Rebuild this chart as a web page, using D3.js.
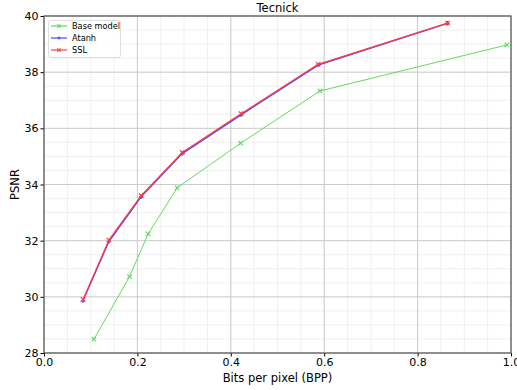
<!DOCTYPE html>
<html><head><meta charset="utf-8">
<script src="https://cdn.jsdelivr.net/npm/d3@7"></script>
<style>body{margin:0;background:#fff;}svg{font-family:"DejaVu Sans",sans-serif;}</style>
</head><body><svg id="c" width="517" height="390"></svg>
<script>
const baseX = [0.107, 0.183, 0.223, 0.285, 0.421, 0.591, 0.991];
const baseY = [28.49, 30.72, 32.24, 33.88, 35.47, 37.33, 38.97];
const atanhX = [0.0835, 0.139, 0.208, 0.296, 0.422, 0.587, 0.864];
const atanhY = [29.86, 31.97, 33.56, 35.10, 36.48, 38.25, 39.74];
const sslX = [0.0835, 0.139, 0.208, 0.296, 0.422, 0.587, 0.864];
const sslY = [29.90, 32.02, 33.60, 35.14, 36.52, 38.28, 39.75];
const xTicks = [0.0, 0.2, 0.4, 0.6, 0.8, 1.0];
const yTicks = [28, 30, 32, 34, 36, 38, 40];
const seriesNames = ["Base model", "Atanh", "SSL"];
const colors = ["#5fdc5f", "#4848ff", "#ff3c3c"];

const svg = d3.select("#c");
const L = 44, R = 511, T = 16, B = 353;
const x = d3.scaleLinear().domain([0, 1]).range([L, R]);
const y = d3.scaleLinear().domain([28, 40]).range([B, T]);

const g = svg.append("g");
g.selectAll(".mx").data(d3.range(0, 1.0001, 0.05)).enter().append("line")
  .attr("x1", d => x(d)).attr("x2", d => x(d)).attr("y1", T).attr("y2", B)
  .attr("stroke", "#ececec").attr("stroke-width", 0.8);
g.selectAll(".my").data(d3.range(28, 40.001, 0.5)).enter().append("line")
  .attr("y1", d => y(d)).attr("y2", d => y(d)).attr("x1", L).attr("x2", R)
  .attr("stroke", "#ececec").attr("stroke-width", 0.8);
g.selectAll(".gx").data(xTicks).enter().append("line")
  .attr("x1", d => x(d)).attr("x2", d => x(d)).attr("y1", T).attr("y2", B)
  .attr("stroke", "#cccccc").attr("stroke-width", 1);
g.selectAll(".gy").data(yTicks).enter().append("line")
  .attr("y1", d => y(d)).attr("y2", d => y(d)).attr("x1", L).attr("x2", R)
  .attr("stroke", "#cccccc").attr("stroke-width", 1);

const xa = svg.append("g").attr("transform", `translate(0,${B})`)
  .call(d3.axisBottom(x).tickValues(xTicks).tickFormat(d3.format(".1f")).tickSize(3.5).tickPadding(2));
const ya = svg.append("g").attr("transform", `translate(${L},0)`)
  .call(d3.axisLeft(y).tickValues(yTicks).tickFormat(d3.format("d")).tickSize(3.5).tickPadding(2));
[xa, ya].forEach(a => {
  a.selectAll("text").attr("font-size", 11).attr("fill", "#000").attr("font-family", "DejaVu Sans");
  a.selectAll("line").attr("stroke", "#000");
  a.select(".domain").remove();
});
svg.append("rect").attr("x", L).attr("y", T).attr("width", R - L).attr("height", B - T)
  .attr("fill", "none").attr("stroke", "#555").attr("stroke-width", 1.2);

const data = [
  {xs: baseX, ys: baseY, sym: "x"},
  {xs: atanhX, ys: atanhY, sym: "+"},
  {xs: sslX, ys: sslY, sym: "x"}
];
const line = d3.line().x(d => x(d[0])).y(d => y(d[1]));
function marker(sel, sym, cx, cy, col, s = 2.2) {
  if (sym === "x") {
    sel.append("path").attr("d", `M${cx-s},${cy-s}L${cx+s},${cy+s}M${cx-s},${cy+s}L${cx+s},${cy-s}`)
      .attr("stroke", col).attr("stroke-width", 1.2);
  } else {
    sel.append("path").attr("d", `M${cx-s},${cy}L${cx+s},${cy}M${cx},${cy-s}L${cx},${cy+s}`)
      .attr("stroke", col).attr("stroke-width", 1.2);
  }
}
data.forEach((s, i) => {
  const pts = s.xs.map((v, j) => [v, s.ys[j]]);
  const sg = svg.append("g");
  sg.append("path").datum(pts).attr("d", line).attr("fill", "none")
    .attr("stroke", colors[i]).attr("stroke-width", i === 0 ? 1 : 1.3);
  pts.forEach(p => marker(sg, s.sym, x(p[0]), y(p[1]), colors[i]));
});

const lg = svg.append("g");
lg.append("rect").attr("x", 48.5).attr("y", 20.5).attr("width", 72).attr("height", 37).attr("rx", 2)
  .attr("fill", "#fff").attr("fill-opacity", 0.8).attr("stroke", "#ddd");
seriesNames.forEach((n, i) => {
  const yy = 26 + i * 12;
  lg.append("line").attr("x1", 51).attr("x2", 67).attr("y1", yy).attr("y2", yy)
    .attr("stroke", colors[i]).attr("stroke-width", 1.2);
  marker(lg, data[i].sym, 59, yy, colors[i], 1.6);
  lg.append("text").attr("x", 72).attr("y", yy + 3).attr("font-size", 8.2).text(n);
});

svg.append("text").attr("x", (L + R) / 2).attr("y", 12).attr("text-anchor", "middle")
  .attr("font-size", 11.5).text("Tecnick");
svg.append("text").attr("x", (L + R) / 2).attr("y", 382).attr("text-anchor", "middle")
  .attr("font-size", 11.5).text("Bits per pixel (BPP)");
svg.append("text").attr("transform", `translate(19,${(T + B) / 2}) rotate(-90)`)
  .attr("text-anchor", "middle").attr("font-size", 11.5).text("PSNR");
</script></body></html>
